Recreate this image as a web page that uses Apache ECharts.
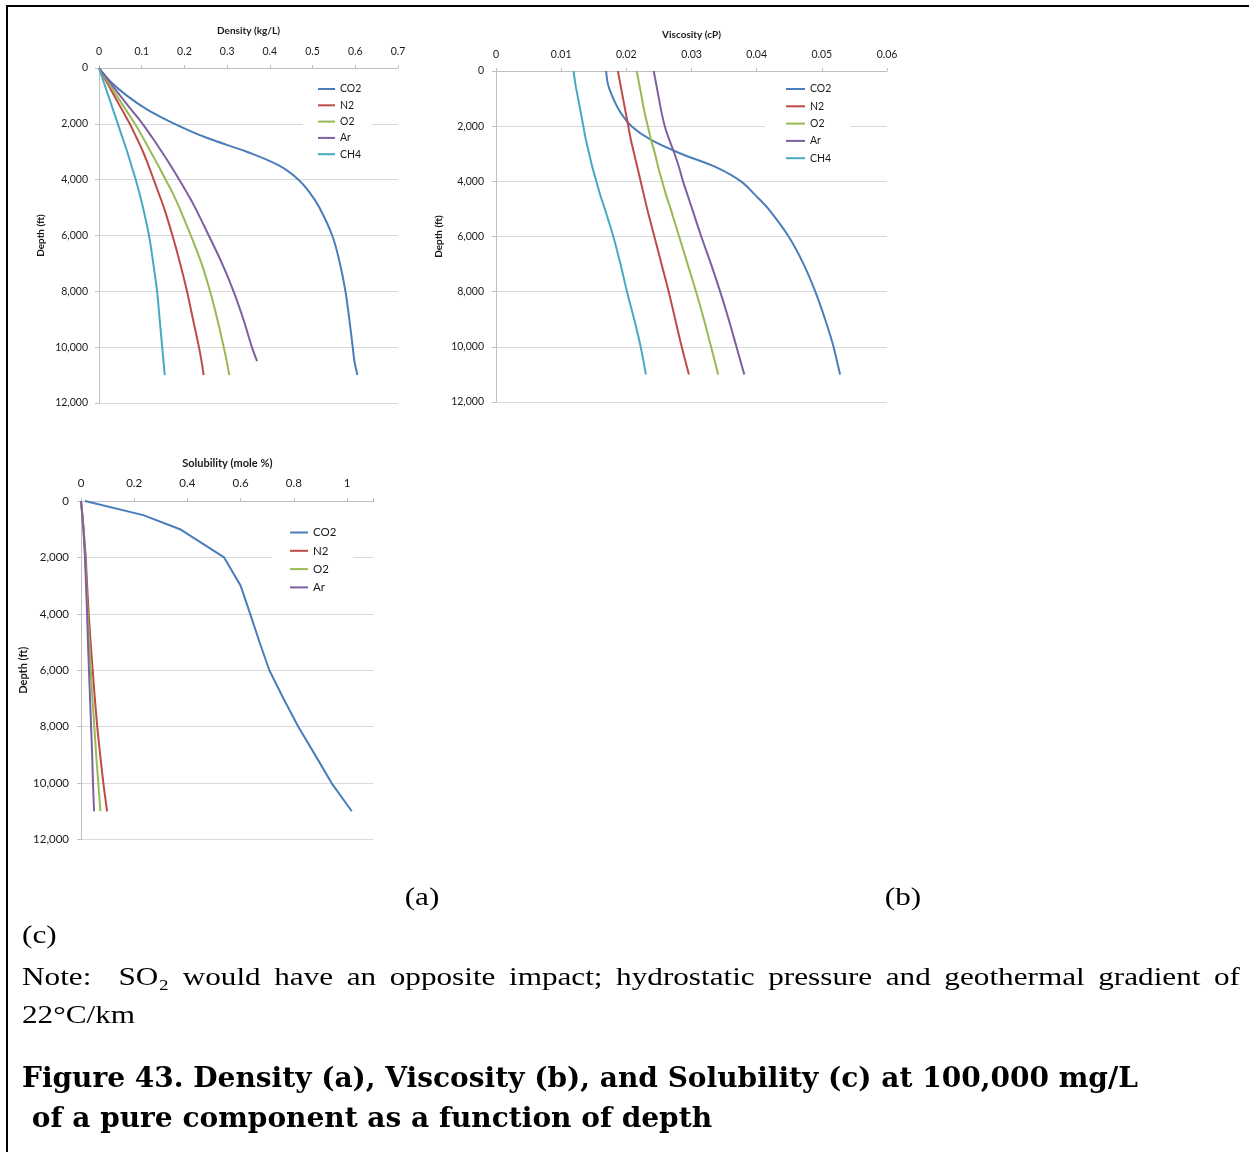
<!DOCTYPE html>
<html>
<head>
<meta charset="utf-8">
<script src="https://cdn.jsdelivr.net/npm/echarts@6/dist/echarts.min.js"></script>
<style>
  html, body { margin: 0; padding: 0; background: #ffffff; }
  #fig { width: 1249px; height: 1152px; }
</style>
</head>
<body>
<div id="fig"></div>
<script>
// ---- series names and colours ----
const gases = ['CO2', 'N2', 'O2', 'Ar', 'CH4'];
const gasColors = ['#4A7EBB', '#BE4B48', '#98B954', '#7D60A0', '#46AAC5'];

// ---- (a) density, kg/L, against depth, ft ----
const densityDepth = [0, 500, 1000, 1500, 2000, 2500, 3000, 3500, 4000, 4500, 5000, 6000, 7000, 8000, 9000, 10000, 10500, 11000];
const densityCO2 = [0, 0.028, 0.066, 0.114, 0.177, 0.252, 0.346, 0.422, 0.467, 0.495, 0.516, 0.546, 0.564, 0.577, 0.586, 0.594, 0.598, 0.605];
const densityN2  = [0, 0.018, 0.036, 0.054, 0.072, 0.088, 0.103, 0.116, 0.128, 0.140, 0.152, 0.172, 0.190, 0.206, 0.220, 0.234, 0.240, 0.245];
const densityO2  = [0, 0.021, 0.042, 0.063, 0.084, 0.103, 0.121, 0.139, 0.156, 0.173, 0.188, 0.215, 0.240, 0.260, 0.277, 0.292, 0.299, 0.305];
const densityAr  = [0, 0.025, 0.050, 0.076, 0.102, 0.125, 0.147, 0.168, 0.188, 0.207, 0.225, 0.257, 0.288, 0.315, 0.338, 0.358, 0.370, null];
const densityCH4 = [0, 0.011, 0.022, 0.033, 0.044, 0.055, 0.066, 0.076, 0.086, 0.095, 0.103, 0.117, 0.127, 0.136, 0.142, 0.148, 0.151, 0.154];

// ---- (b) viscosity, cP, against depth, ft ----
const viscosityDepth = [0, 500, 1000, 1500, 2000, 2500, 3000, 3500, 4000, 4500, 5000, 6000, 7000, 8000, 9000, 10000, 11000];
const viscosityCO2 = [0.0169, 0.0172, 0.0180, 0.0191, 0.0208, 0.0238, 0.0284, 0.0339, 0.0376, 0.0398, 0.0418, 0.0449, 0.0472, 0.0490, 0.0505, 0.0518, 0.0528];
const viscosityN2  = [0.0187, 0.0191, 0.0195, 0.0199, 0.0203, 0.0207, 0.0212, 0.0217, 0.0222, 0.0227, 0.0232, 0.0243, 0.0254, 0.0265, 0.0275, 0.0285, 0.0296];
const viscosityO2  = [0.0216, 0.0220, 0.0224, 0.0228, 0.0233, 0.0238, 0.0244, 0.0249, 0.0255, 0.0261, 0.0268, 0.0281, 0.0294, 0.0307, 0.0319, 0.0330, 0.0341];
const viscosityAr  = [0.0242, 0.0246, 0.0250, 0.0254, 0.0259, 0.0266, 0.0274, 0.0281, 0.0287, 0.0294, 0.0301, 0.0315, 0.0330, 0.0344, 0.0357, 0.0369, 0.0381];
const viscosityCH4 = [0.0119, 0.0122, 0.0126, 0.0130, 0.0134, 0.0138, 0.0143, 0.0148, 0.0154, 0.0160, 0.0167, 0.0180, 0.0191, 0.0201, 0.0212, 0.0222, 0.0230];

// ---- (c) solubility, mole %, against depth, ft ----
const solubilityDepth = [0, 500, 1000, 2000, 3000, 4000, 5000, 6000, 7000, 8000, 9000, 10000, 11000];
const solubilityCO2 = [0.015, 0.234, 0.372, 0.538, 0.600, 0.636, 0.671, 0.708, 0.761, 0.817, 0.880, 0.942, 1.018];
const solubilityN2  = [0, 0.005, 0.010, 0.018, 0.023, 0.029, 0.036, 0.044, 0.052, 0.061, 0.072, 0.084, 0.098];
const solubilityO2  = [0, 0.005, 0.009, 0.016, 0.020, 0.025, 0.031, 0.037, 0.043, 0.050, 0.057, 0.065, 0.073];
const solubilityAr  = [0, 0.005, 0.009, 0.015, 0.019, 0.023, 0.026, 0.030, 0.034, 0.038, 0.042, 0.045, 0.049];

// ---- axis ranges and tick steps ----
const depthMin = 0, depthMax = 12000, depthStep = 2000;
const densityMax = 0.7, densityStep = 0.1;
const viscosityMax = 0.06, viscosityStep = 0.01;
const solubilityMax = 1.1, solubilityStep = 0.2;

// ---- captions ----
const panelTags = ['(a)', '(b)', '(c)'];
const noteLine1 = ['Note:', '', 'SO\u2082', 'would', 'have', 'an', 'opposite', 'impact;', 'hydrostatic', 'pressure', 'and', 'geothermal', 'gradient', 'of'];
const noteLine2 = '22\u00B0C/km';
const captionLine1 = 'Figure 43. Density (a), Viscosity (b), and Solubility (c) at 100,000 mg/L';
const captionLine2 = ' of a pure component as a function of depth';

const chartFont = 'Lato';
const docFont = '"Liberation Serif", "Times New Roman", serif';
const capFontFamily = '"DejaVu Serif", "Liberation Serif", serif';
const ink = '#1a1a1a';
const axisGrey = '#bfbfbf';
const gridGrey = '#d9d9d9';

function depthLabel(v) { return Number(v).toLocaleString('en-US'); }

function pairs(depths, values) {
  const out = [];
  values.forEach((v, i) => { if (v !== null && v !== undefined) out.push([v, depths[i]]); });
  return out;
}

function lineSeries(name, color, depths, values, axisIdx, smooth) {
  return {
    type: 'line', name: name,
    xAxisIndex: axisIdx, yAxisIndex: axisIdx,
    data: pairs(depths, values),
    showSymbol: false, symbol: 'none',
    smooth: smooth,
    lineStyle: { color: color, width: 2 },
    itemStyle: { color: color },
    emphasis: { disabled: true },
    animation: false
  };
}

function xAxisFor(idx, name, max, step, labelSize, nameGap, margin, labelFormatter) {
  return {
    gridIndex: idx, type: 'value', position: 'top',
    min: 0, max: max, interval: step,
    name: name, nameLocation: 'middle', nameGap: nameGap,
    nameTextStyle: { fontFamily: chartFont, fontWeight: 'bold', fontSize: labelSize - 0.5, color: ink },
    axisLine: { show: true, lineStyle: { color: axisGrey, width: 1 } },
    axisTick: { show: true, length: 3, lineStyle: { color: axisGrey } },
    axisLabel: { fontFamily: chartFont, fontSize: labelSize, color: ink, margin: margin, formatter: labelFormatter },
    splitLine: { show: false }
  };
}

function yAxisFor(idx, labelSize, nameGap, margin) {
  return {
    gridIndex: idx, type: 'value', inverse: true,
    min: depthMin, max: depthMax, interval: depthStep,
    name: 'Depth (ft)', nameLocation: 'middle', nameGap: nameGap,
    nameTextStyle: { fontFamily: chartFont, fontWeight: 'bold', fontSize: labelSize - 0.5, color: ink },
    axisLine: { show: true, onZero: false, lineStyle: { color: axisGrey, width: 1 } },
    axisTick: { show: true, length: 4, lineStyle: { color: axisGrey } },
    axisLabel: { fontFamily: chartFont, fontSize: labelSize, color: ink, margin: margin, formatter: depthLabel },
    splitLine: { show: true, lineStyle: { color: gridGrey, width: 1 } }
  };
}

function legendFor(left, top, names, itemWidth, gap, lineH, fontSize, padding) {
  return {
    left: left, top: top, orient: 'vertical',
    data: names, icon: 'rect', itemWidth: itemWidth, itemHeight: 2, itemGap: gap,
    backgroundColor: '#ffffff', padding: padding,
    selectedMode: false,
    textStyle: { fontFamily: chartFont, fontSize: fontSize, color: ink, lineHeight: lineH }
  };
}

// solubility axis runs a little past 1; only the 0.2 steps carry labels
function solubilityTick(v) {
  const k = v / solubilityStep;
  return Math.abs(k - Math.round(k)) < 1e-6 ? String(Math.round(v * 10) / 10) : '';
}

const series = [];
const densitySets = [densityCO2, densityN2, densityO2, densityAr, densityCH4];
const viscositySets = [viscosityCO2, viscosityN2, viscosityO2, viscosityAr, viscosityCH4];
const solubilitySets = [solubilityCO2, solubilityN2, solubilityO2, solubilityAr];
gases.forEach((g, i) => series.push(lineSeries(g, gasColors[i], densityDepth, densitySets[i], 0, 0.4)));
gases.forEach((g, i) => series.push(lineSeries(g, gasColors[i], viscosityDepth, viscositySets[i], 1, 0.35)));
gases.slice(0, 4).forEach((g, i) => series.push(lineSeries(g, gasColors[i], solubilityDepth, solubilitySets[i], 2, false)));

// ---- text blocks below the panels ----
const measureCtx = document.createElement('canvas').getContext('2d');
function textWidth(str, font) { measureCtx.font = font; return measureCtx.measureText(str).width; }

// body text of the page is set a little wide
const docStretch = 1.2;

function textEl(str, x, y, font, align, stretch) {
  return {
    type: 'text', x: x, y: y, silent: true,
    scaleX: stretch || 1,
    style: { text: str, font: font, fill: '#000000', textAlign: align || 'left', textVerticalAlign: 'middle' }
  };
}

// spread words over a full line width, like a justified paragraph
function justified(words, x0, x1, y, font, stretch) {
  const els = [];
  const real = [];
  let gapUnits = 0, pending = 0;
  words.forEach((w, i) => {
    if (i > 0) pending += 1;
    if (w === '') return;
    real.push({ w: w, gap: real.length ? pending : 0 });
    gapUnits += real.length > 1 ? pending : 0;
    pending = 0;
  });
  let total = 0;
  real.forEach(r => { total += textWidth(r.w, font) * stretch; });
  const unit = (x1 - x0 - total) / gapUnits;
  let x = x0;
  real.forEach(r => {
    x += r.gap * unit;
    els.push(textEl(r.w, x, y, font, 'left', stretch));
    x += textWidth(r.w, font) * stretch;
  });
  return els;
}

const docFontCss = '26px ' + docFont;
// caption size chosen so the first line spans the text block
const capBase = 30;
const capProbe = 'bold ' + capBase + 'px ' + capFontFamily;
const capSize = capBase * (1116 / textWidth(captionLine1, capProbe));
const capFontCss = 'bold ' + capSize.toFixed(2) + 'px ' + capFontFamily;

const graphics = [
  { type: 'line', silent: true, shape: { x1: 6, y1: 6, x2: 1249, y2: 6 }, style: { stroke: '#000', lineWidth: 2 } },
  { type: 'line', silent: true, shape: { x1: 7, y1: 5, x2: 7, y2: 1152 }, style: { stroke: '#000', lineWidth: 2 } },
  textEl(panelTags[0], 422, 898, docFontCss, 'center', docStretch),
  textEl(panelTags[1], 903, 898, docFontCss, 'center', docStretch),
  textEl(panelTags[2], 22, 936, docFontCss, 'left', docStretch),
  textEl(noteLine2, 22, 1016, docFontCss, 'left', docStretch),
  textEl(captionLine1, 22, 1080, capFontCss, 'left'),
  textEl(captionLine2, 22, 1120, capFontCss, 'left')
].concat(justified(noteLine1, 22, 1240, 978, docFontCss, docStretch));

const option = {
  backgroundColor: '#ffffff',
  animation: false,
  textStyle: { fontFamily: chartFont },
  grid: [
    { left: 99, top: 68, width: 299, height: 335, outerBoundsMode: 'none', containLabel: false },
    { left: 496, top: 71, width: 391, height: 331, outerBoundsMode: 'none', containLabel: false },
    { left: 81, top: 501, width: 292.6, height: 338.5, outerBoundsMode: 'none', containLabel: false }
  ],
  xAxis: [
    xAxisFor(0, 'Density (kg/L)', densityMax, densityStep, 10.5, 32, 11, null),
    xAxisFor(1, 'Viscosity (cP)', viscosityMax, viscosityStep, 10.5, 31, 11, null),
    xAxisFor(2, 'Solubility (mole %)', solubilityMax, solubilityStep, 11.5, 32, 12, solubilityTick)
  ],
  yAxis: [
    yAxisFor(0, 10.5, 53, 11),
    yAxisFor(1, 10.5, 52, 12),
    yAxisFor(2, 11.5, 44, 12)
  ],
  legend: [
    legendFor(303, 77, gases, 17, 4.3, 12, 10.5, [6, 10, 6, 15]),
    legendFor(765, 77, gases, 19, 5.3, 12, 10.5, [6, 19, 6, 21]),
    legendFor(272, 520, gases.slice(0, 4), 18, 5.3, 13, 11.5, [6, 17, 6, 18])
  ],
  series: series,
  graphic: { elements: graphics }
};

const chart = echarts.init(document.getElementById('fig'), null, { renderer: 'canvas' });
chart.setOption(option);
</script>
</body>
</html>
